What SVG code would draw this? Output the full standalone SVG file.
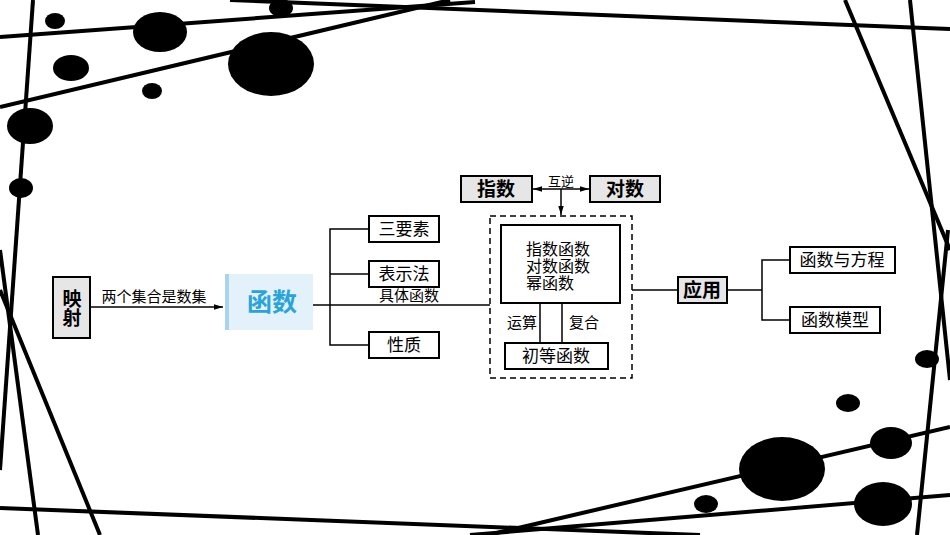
<svg xmlns="http://www.w3.org/2000/svg" width="950" height="535" viewBox="0 0 950 535">
<style>
.bg{stroke:#000;stroke-width:4;fill:none}
.box{fill:#fff;stroke:#000;stroke-width:2}
.gbox{fill:#e6e6e6;stroke:#000;stroke-width:2}
.ln{stroke:#000;stroke-width:1.5;fill:none}
text{font-family:"Liberation Serif","Noto Sans CJK SC",serif;fill:#000;text-anchor:middle}
.t{font-size:17px}
.b{font-size:19px;font-weight:bold}
.s{font-size:15px}
.l{text-anchor:start;font-size:16px}
</style>
<defs>
<marker id="ar" viewBox="0 0 10 10" refX="10" refY="5" markerWidth="8" markerHeight="6" orient="auto-start-reverse"><path d="M0,2 L10,5 L0,8 z" fill="#000"/></marker>
</defs>
<rect width="950" height="535" fill="#fff"/>
<g id="background">
<line class="bg" x1="0" y1="37" x2="475" y2="2"/>
<line class="bg" x1="230" y1="0" x2="950" y2="29"/>
<line class="bg" x1="0" y1="107" x2="450" y2="0"/>
<line class="bg" x1="33" y1="0" x2="0" y2="470"/>
<line class="bg" x1="0" y1="250" x2="38" y2="535"/>
<line class="bg" x1="0" y1="290" x2="100" y2="535"/>
<line class="bg" x1="0" y1="508" x2="700" y2="535"/>
<line class="bg" x1="488" y1="535" x2="950" y2="427"/>
<line class="bg" x1="470" y1="535" x2="950" y2="495"/>
<line class="bg" x1="948" y1="230" x2="917" y2="535"/>
<line class="bg" x1="910" y1="0" x2="950" y2="380"/>
<line class="bg" x1="845" y1="0" x2="950" y2="250"/>
<ellipse cx="55" cy="21" rx="10" ry="8"/>
<ellipse cx="160" cy="32" rx="27" ry="20"/>
<ellipse cx="281" cy="8" rx="12" ry="9"/>
<ellipse cx="71" cy="68" rx="18" ry="13"/>
<ellipse cx="152" cy="91" rx="10" ry="8"/>
<ellipse cx="271" cy="64" rx="43" ry="32"/>
<ellipse cx="30" cy="126" rx="23" ry="18"/>
<ellipse cx="21" cy="188" rx="12" ry="10"/>
<ellipse cx="927" cy="359" rx="12" ry="9"/>
<ellipse cx="848" cy="403" rx="12" ry="9"/>
<ellipse cx="891" cy="443" rx="21" ry="16"/>
<ellipse cx="782" cy="469" rx="43" ry="32"/>
<ellipse cx="706" cy="504" rx="12" ry="9"/>
<ellipse cx="883" cy="504" rx="29" ry="22"/>
</g>
<g id="connectors">
<line class="ln" x1="90" y1="307" x2="223" y2="307" marker-end="url(#ar)"/>
<line class="ln" x1="313" y1="305" x2="490" y2="305"/>
<polyline class="ln" points="369,229 330,229 330,345 369,345"/>
<line class="ln" x1="330" y1="274" x2="369" y2="274"/>
<line class="ln" x1="533" y1="189" x2="589" y2="189" marker-start="url(#ar)" marker-end="url(#ar)"/>
<line class="ln" x1="561" y1="189" x2="561" y2="215" marker-end="url(#ar)"/>
<line class="ln" x1="540" y1="303" x2="540" y2="343"/>
<line class="ln" x1="562" y1="303" x2="562" y2="343"/>
<line class="ln" x1="632" y1="290" x2="678" y2="290"/>
<line class="ln" x1="727" y1="290" x2="762" y2="290"/>
<polyline class="ln" points="790,260 762,260 762,320 790,320"/>
<text class="s" x="154" y="302">两个集合是数集</text>
<text class="s" x="409" y="301">具体函数</text>
<text x="561" y="186" style="font-size:13px">互逆</text>
<text class="s" x="522" y="328">运算</text>
<text class="s" x="584" y="328">复合</text>
</g>
<g id="n-yingshe"><rect class="gbox" x="53" y="277" width="37" height="61"/><text class="b" x="72" y="306">映</text><text class="b" x="72" y="325">射</text></g>
<g id="n-hanshu"><rect x="225" y="274" width="88" height="56" fill="#e3f1fb"/><rect x="225" y="274" width="4" height="56" fill="#a9d3ee"/><text x="272" y="311" style="font-size:25px;font-weight:bold;fill:#2aa4d8">函数</text></g>
<g id="n-sanyaosu"><rect class="box" x="369" y="216" width="70" height="26"/><text class="t" x="404" y="235">三要素</text></g>
<g id="n-biaoshifa"><rect class="box" x="369" y="261" width="70" height="26"/><text class="t" x="404" y="280">表示法</text></g>
<g id="n-xingzhi"><rect class="box" x="369" y="332" width="70" height="26"/><text class="t" x="404" y="351">性质</text></g>
<g id="n-zhishu"><rect class="gbox" x="461" y="176" width="71" height="26"/><text class="b" x="496" y="196">指数</text></g>
<g id="n-duishu"><rect class="gbox" x="590" y="176" width="70" height="26"/><text class="b" x="625" y="196">对数</text></g>
<g id="n-group"><rect x="490" y="216" width="142" height="162" fill="none" stroke="#000" stroke-width="1.5" stroke-dasharray="6,4"/></g>
<g id="n-funcs"><rect class="box" x="501" y="225" width="119" height="78"/>
<text class="l" x="526" y="255">指数函数</text><text class="l" x="526" y="272">对数函数</text><text class="l" x="526" y="289">幂函数</text></g>
<g id="n-chudeng"><rect class="box" x="505" y="343" width="103" height="26"/><text class="t" x="556" y="362">初等函数</text></g>
<g id="n-yingyong"><rect class="gbox" x="678" y="277" width="49" height="26"/><text class="b" x="702" y="297">应用</text></g>
<g id="n-fangcheng"><rect class="box" x="790" y="247" width="105" height="26"/><text class="t" x="842" y="266">函数与方程</text></g>
<g id="n-moxing"><rect class="box" x="790" y="307" width="90" height="26"/><text class="t" x="835" y="326">函数模型</text></g>
</svg>
